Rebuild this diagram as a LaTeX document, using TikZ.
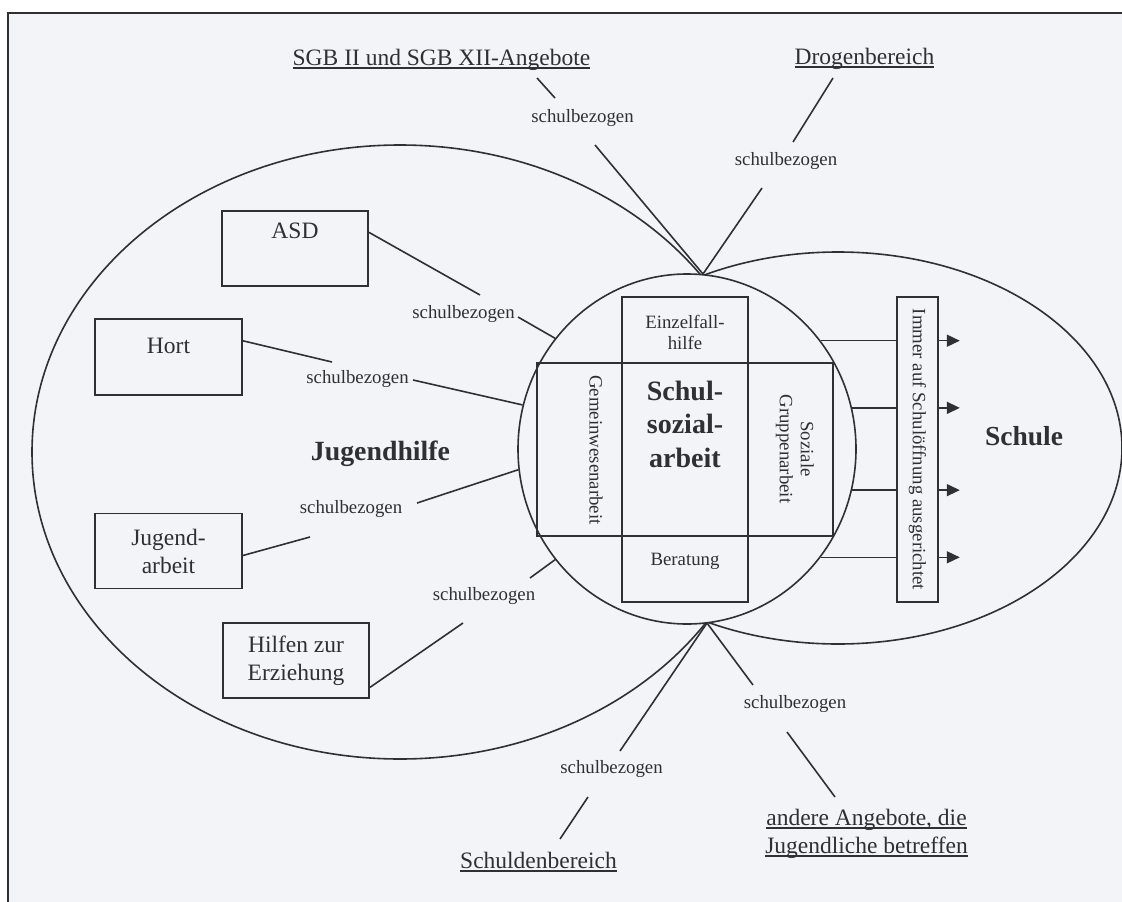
\documentclass[tikz,border=0pt]{standalone}
\usepackage{fontspec}
\setmainfont{Liberation Serif}
\usetikzlibrary{shapes.geometric,arrows.meta,calc}
\definecolor{bg}{RGB}{243,244,247}
\definecolor{ink}{RGB}{48,48,52}
\newcommand\fs{\fontsize{18.8}{21}\selectfont}
\newcommand\fm{\fontsize{23.5}{28}\selectfont}
\newcommand\fbig{\fontsize{28}{33.5}\selectfont\bfseries}
\newsavebox\ulbox
\newcommand\ulx[1]{\sbox\ulbox{#1}\rlap{\rule[-3.5pt]{\wd\ulbox}{1.2pt}}\usebox\ulbox}
\begin{document}
\begin{tikzpicture}[x=1pt,y=-1pt,line width=1.6pt,color=ink,
  lab/.style={font=\fs,inner sep=0pt,anchor=base},
  head/.style={font=\fm,inner sep=0pt,anchor=base},
  boxn/.style={draw,font=\fm,inner sep=0pt,minimum width=146.5pt,minimum height=75pt},
  inner/.style={font=\fs,inner sep=0pt,align=center}]
\useasboundingbox (0,0) rectangle (1122,902);
\fill[white] (0,0) rectangle (1122,902);
\fill[bg] (8,13) rectangle (1122,902);
\draw (8,902) -- (8,13) -- (1122,13);

% big areas
\draw (400,452) ellipse [x radius=368, y radius=307];
\draw (838,448) ellipse [x radius=284, y radius=196];
\node[ellipse,draw,fill=bg,minimum width=338pt,minimum height=350pt,inner sep=0pt] (circ) at (687,449) {};
\draw (622,297) rectangle (748,602);
\draw (537,363) rectangle (833,536);

% inner texts
\node[inner] (einz) at (685,332) {Einzelfall-\\hilfe};
\node[lab] (ber) at (685,565) {Beratung};
\node[font=\fbig,inner sep=0pt,align=center] (ssa) at (685,424) {Schul-\\sozial-\\arbeit};
\node[inner,rotate=-90] (gwa) at (596,450) {Gemeinwesenarbeit};
\node[inner,rotate=-90] (sga) at (795,449) {Soziale\\Gruppenarbeit};
\node[draw,font=\fs,rotate=-90,minimum width=305pt,minimum height=41pt,inner sep=0pt] (imm) at (917.5,449.5) {Immer auf Schulöffnung ausgerichtet};

\foreach \a in {39,14,346,321}{
  \draw (circ.\a) -- (circ.\a -| imm.south);
  \coordinate (tip\a) at ($(circ.\a -| imm.north)+(21,0)$);
  \draw[-{Triangle[length=13pt,width=12pt]}] (circ.\a -| imm.north) -- (tip\a);
}

\node[font=\fontsize{27.8}{33}\selectfont\bfseries,inner sep=0pt,anchor=base] (jh) at (380.5,460) {Jugendhilfe};
\node[font=\fontsize{27.5}{33}\selectfont\bfseries,inner sep=0pt,anchor=base] (schule) at (1024,445) {Schule};

% boxes
\node[boxn,text height=27pt,text depth=48pt] (asd) at (295,248.5) {ASD};
\node[boxn,text height=34pt,text depth=42pt] (hort) at (168.5,357) {Hort};
\node[boxn,align=center] (ja) at (168.5,551) {Jugend-\\arbeit};
\node[boxn,align=center] (hze) at (296,660.5) {Hilfen zur\\Erziehung};

% headings
\node[head] (sgb) at (441.5,65) {\ulx{SGB II und SGB XII-Angebote}};
\node[head] (drog) at (864.5,64) {\ulx{Drogenbereich}};
\node[head] (schulden) at (538.5,868) {\ulx{Schuldenbereich}};
\node[font=\fm,align=center,inner sep=0pt] (andere) at (866.5,833.5) {\ulx{andere Angebote, die}\\\ulx{Jugendliche betreffen}};

% labels
\node[lab] (s1) at (582.5,122) {schulbezogen};
\node[lab] (s2) at (786,165) {schulbezogen};
\node[lab] (s3) at (463.5,318) {schulbezogen};
\node[lab] (s4) at (357.5,383) {schulbezogen};
\node[lab] (s5) at (351,513) {schulbezogen};
\node[lab] (s6) at (484,600) {schulbezogen};
\node[lab] (s7) at (611.5,773) {schulbezogen};
\node[lab] (s8) at (795,708) {schulbezogen};

% junctions and free ends
\coordinate (jt) at (703,274);
\coordinate (jb) at (707,623);
\coordinate (t1a) at (537,78);  \coordinate (t1b) at (555,98);  \coordinate (t1c) at (595,145);
\coordinate (t2a) at (833,78);  \coordinate (t2b) at (793,142); \coordinate (t2c) at (762,188);
\coordinate (l1a) at (480,295); \coordinate (l1b) at (518,317);
\coordinate (l2a) at (332,362); \coordinate (l2b) at (413,380);
\coordinate (l3a) at (310,537); \coordinate (l3b) at (417,503);
\coordinate (l4a) at (463,623); \coordinate (l4b) at (530,578);
\coordinate (b1a) at (560,839); \coordinate (b1b) at (588,797); \coordinate (b1c) at (620,751);
\coordinate (b2a) at (753,685); \coordinate (b2b) at (787,732); \coordinate (b2c) at (835,797);

% connectors
\draw (t1a) -- (t1b);  \draw (t1c) -- (jt);
\draw (t2a) -- (t2b);  \draw (t2c) -- (jt);
\draw ($(asd.north east)!0.29!(asd.south east)$) -- (l1a);  \draw (l1b) -- (circ.140);
\draw ($(hort.north east)!0.29!(hort.south east)$) -- (l2a); \draw (l2b) -- (circ.165);
\draw ($(ja.north east)!0.56!(ja.south east)$) -- (l3a);     \draw (l3b) -- (circ.187);
\draw ($(hze.north east)!0.85!(hze.south east)$) -- (l4a);   \draw (l4b) -- (circ.220);
\draw (b1a) -- (b1b);  \draw (b1c) -- (jb);
\draw (jb) -- (b2a);   \draw (b2b) -- (b2c);
\end{tikzpicture}
\end{document}
